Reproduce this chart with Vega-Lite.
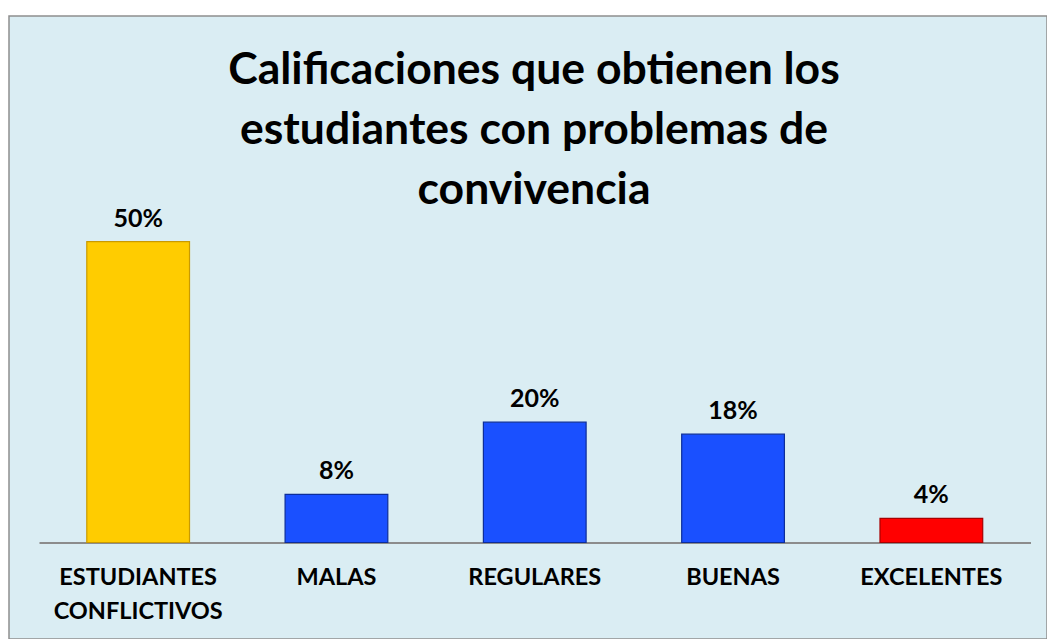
{
  "$schema": "https://vega.github.io/schema/vega-lite/v6.json",
  "width": 1038,
  "height": 623,
  "autosize": "none",
  "padding": {"left": 9, "top": 16, "right": 0, "bottom": 0},
  "background": "white",
  "config": {
    "view": {"fill": "#DAEDF3", "stroke": "#8E8E8E", "strokeWidth": 1.5},
    "font": "Lato"
  },
  "title": {
    "text": ["Calificaciones que obtienen los", "estudiantes con problemas de", "convivencia"],
    "font": "Lato",
    "fontSize": 44.5,
    "fontWeight": "bold",
    "color": "black",
    "lineHeight": 60,
    "anchor": "middle",
    "frame": "group",
    "offset": -197,
    "baseline": "top",
    "dx": 6
  },
  "data": {
    "values": [
      {"categoria": "ESTUDIANTES CONFLICTIVOS", "porcentaje": 0.50},
      {"categoria": "MALAS", "porcentaje": 0.08},
      {"categoria": "REGULARES", "porcentaje": 0.20},
      {"categoria": "BUENAS", "porcentaje": 0.18},
      {"categoria": "EXCELENTES", "porcentaje": 0.04}
    ]
  },
  "encoding": {
    "x": {
      "field": "categoria",
      "type": "nominal",
      "sort": null,
      "scale": {"range": [30, 1021.5], "paddingInner": 0.482, "paddingOuter": 0.241},
      "axis": {
        "orient": "bottom",
        "offset": -96.5,
        "title": null,
        "grid": false,
        "ticks": false,
        "domainColor": "#8C8C8C",
        "domainWidth": 2,
        "labelPadding": 23,
        "labelFont": "Lato",
        "labelFontSize": 23.5,
        "labelFontWeight": "bold",
        "labelColor": "black",
        "labelAngle": 0,
        "labelBaseline": "top",
        "labelLineHeight": 34,
        "labelLimit": 400,
        "labelExpr": "split(datum.label, ' ')"
      }
    },
    "y": {
      "field": "porcentaje",
      "type": "quantitative",
      "scale": {"domain": [-0.1604, 0.8752], "nice": false, "zero": false},
      "axis": null
    }
  },
  "layer": [
    {
      "mark": {"type": "bar", "strokeWidth": 1.2},
      "encoding": {
        "color": {
          "field": "categoria",
          "type": "nominal",
          "scale": {
            "domain": ["ESTUDIANTES CONFLICTIVOS", "MALAS", "REGULARES", "BUENAS", "EXCELENTES"],
            "range": ["#FFCC00", "#1A50FF", "#1A50FF", "#1A50FF", "#FF0000"]
          },
          "legend": null
        },
        "stroke": {
          "field": "categoria",
          "type": "nominal",
          "scale": {
            "domain": ["ESTUDIANTES CONFLICTIVOS", "MALAS", "REGULARES", "BUENAS", "EXCELENTES"],
            "range": ["#C99A00", "#0D2E99", "#0D2E99", "#0D2E99", "#A80000"]
          },
          "legend": null
        }
      }
    },
    {
      "mark": {
        "type": "text",
        "dy": -15,
        "baseline": "alphabetic",
        "font": "Lato",
        "fontSize": 25,
        "fontWeight": "bold",
        "color": "black"
      },
      "encoding": {
        "text": {"field": "porcentaje", "type": "quantitative", "format": ".0%"}
      }
    }
  ]
}
